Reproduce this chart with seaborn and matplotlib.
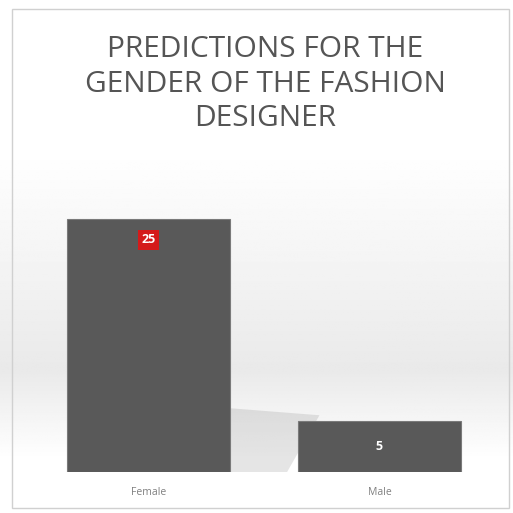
import numpy as np
import pandas as pd
import matplotlib
matplotlib.use("Agg")
import matplotlib.pyplot as plt
import seaborn as sns
from matplotlib.patches import Rectangle, Polygon

categories = ["Female", "Male"]
values = [25, 5]
title = "PREDICTIONS FOR THE\nGENDER OF THE FASHION\nDESIGNER"

sns.set_theme(style="white")
plt.rcParams['font.family'] = ['Open Sans', 'DejaVu Sans']

W = H = 513
fig = plt.figure(figsize=(W / 100, H / 100), dpi=100)
fig.patch.set_facecolor("white")

# background gradient
bg = fig.add_axes([0, 0, 1, 1], zorder=-10)
ys = np.linspace(0, 1, 300)  # 0 top -> 1 bottom
def shade(y):
    y_px = y * H
    if y_px < 150:
        return 1.0
    if y_px < 370:
        return 1.0 - 0.085 * (y_px - 150) / 220
    return 0.915 + 0.085 * min(1, (y_px - 370) / 90)
col = np.array([shade(y) for y in ys])
img = np.repeat(col[:, None], 2, axis=1)
bg.imshow(img, cmap="gray", vmin=0, vmax=1, aspect="auto", extent=[0, 1, 0, 1], origin="upper")
bg.set_xlim(0, 1); bg.set_ylim(0, 1)
bg.axis("off")
# outer frame
bg.add_patch(Rectangle((12 / W, 1 - 508 / H), (509 - 12) / W, (508 - 9) / H,
                       fill=False, edgecolor="#d0d0d0", lw=1.0, transform=fig.transFigure))

# main axes
left, right = 33, 495
top, bottom = 168, 472
ax = fig.add_axes([left / W, 1 - bottom / H, (right - left) / W, (bottom - top) / H])
ax.patch.set_alpha(0)
df = pd.DataFrame({"gender": categories, "count": values})

# soft shadow behind the Female bar
ax.add_patch(Polygon([(0.35, 0), (0.35, 6.3), (0.74, 5.6), (0.6, 0)], closed=True,
                     facecolor="#8a8a8a", alpha=0.22, edgecolor="none", zorder=0))

sns.barplot(data=df, x="gender", y="count", color="#595959", saturation=1,
            width=0.706, ax=ax, zorder=2, edgecolor="#7a7a7a", linewidth=0.8)
ax.set_ylim(0, 30)
ax.set_xlim(-0.5, 1.5)
for s in ax.spines.values():
    s.set_visible(False)
ax.set_yticks([])
ax.set_xlabel(""); ax.set_ylabel("")
ax.tick_params(axis="x", length=0, pad=11, labelsize=7.5, labelcolor="#808080")

# data labels
ax.text(0, values[0] - 2.1, str(values[0]), ha="center", va="center", color="white",
        fontsize=9, fontweight="bold", zorder=5,
        bbox=dict(boxstyle="square,pad=0.25", facecolor="#d41a1a", edgecolor="none"))
ax.text(1, values[1] / 2, str(values[1]), ha="center", va="center", color="white",
        fontsize=9, fontweight="bold", zorder=5)

fig.text(265 / W, 1 - 84 / H, title, ha="center", va="center", fontsize=21.5,
         color="#555555", linespacing=1.25)

fig.savefig("out.png", dpi=100)
